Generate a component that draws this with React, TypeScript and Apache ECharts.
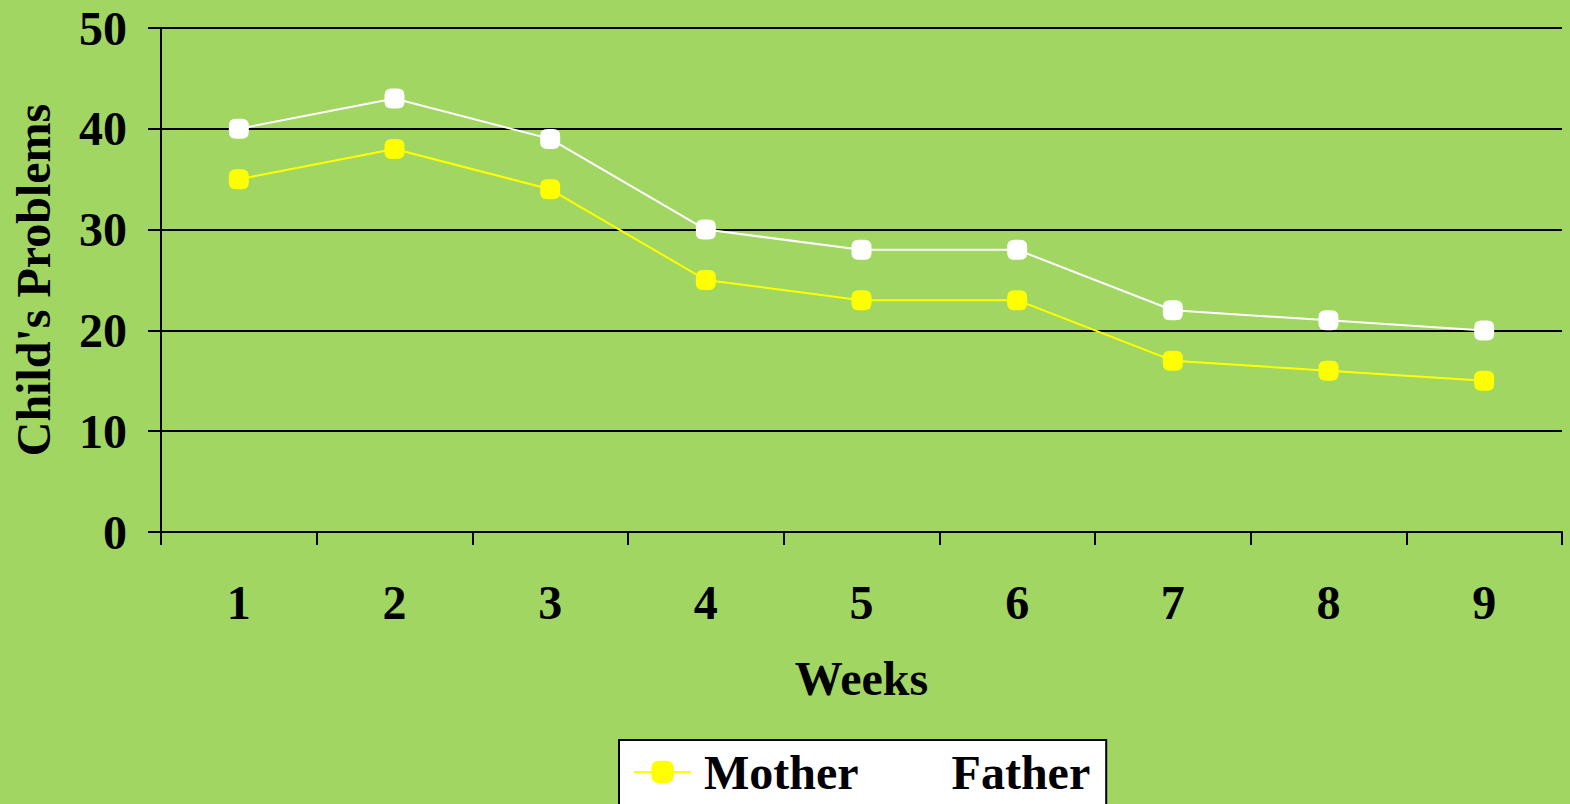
import React, { useEffect, useRef } from "react";
import * as echarts from "echarts";

const weeks = ["1", "2", "3", "4", "5", "6", "7", "8", "9"];
const mother = [35, 38, 34, 25, 23, 23, 17, 16, 15];
const father = [40, 43, 39, 30, 28, 28, 22, 21, 20];

const FONT = "'Liberation Serif', 'Times New Roman', serif";
const MARK = "path://M3.5,0 H6.5 Q10,0 10,3.5 V6.5 Q10,10 6.5,10 H3.5 Q0,10 0,6.5 V3.5 Q0,0 3.5,0 Z";

export default function App() {
  const ref = useRef<HTMLDivElement>(null);
  useEffect(() => {
    const chart = echarts.init(ref.current!, null, { renderer: "svg" });
    const txt = { fontFamily: FONT, fontWeight: "bold", fontSize: 48, color: "#000" };
    chart.setOption({
      animation: false,
      backgroundColor: "#A1D662",
      grid: { left: 161, right: 8, top: 28, bottom: 272 },
      legend: {
        left: 619,
        top: 740,
        backgroundColor: "#FFFFFF",
        borderColor: "#000000",
        borderWidth: 2,
        borderRadius: 0,
        padding: [8, 16, 30, 14],
        itemWidth: 57,
        itemHeight: 28,
        itemGap: 22,
        textStyle: { ...txt, padding: [0, 0, 0, 8] },
        data: ["Mother", "Father"],
      },
      xAxis: {
        type: "category",
        data: weeks,
        boundaryGap: true,
        name: "Weeks",
        nameLocation: "middle",
        nameGap: 122,
        nameTextStyle: txt,
        axisLine: { lineStyle: { color: "#000", width: 2 } },
        axisTick: { show: true, length: 13, lineStyle: { color: "#000", width: 2 } },
        axisLabel: { margin: 46, ...txt },
        splitLine: { show: false },
      },
      yAxis: {
        type: "value",
        min: 0,
        max: 50,
        interval: 10,
        name: "Child's Problems",
        nameLocation: "middle",
        nameGap: 104,
        nameRotate: 90,
        nameTextStyle: txt,
        axisLine: { show: true, lineStyle: { color: "#000", width: 2 } },
        axisTick: { show: true, length: 13, lineStyle: { color: "#000", width: 2 } },
        axisLabel: { margin: 34, ...txt },
        splitLine: { show: true, lineStyle: { color: "#000", width: 2 } },
      },
      series: [
        {
          name: "Mother",
          type: "line",
          data: mother,
          symbol: MARK,
          symbolSize: 20,
          itemStyle: { color: "#FFFF00" },
          lineStyle: { color: "#FFFF00", width: 2 },
        },
        {
          name: "Father",
          type: "line",
          data: father,
          symbol: MARK,
          symbolSize: 20,
          itemStyle: { color: "#FFFFFF" },
          lineStyle: { color: "#FFFFFF", width: 2 },
        },
      ],
    });
    return () => chart.dispose();
  }, []);
  return <div ref={ref} style={{ width: 1570, height: 804, position: "absolute", left: 0, top: 0 }} />;
}
